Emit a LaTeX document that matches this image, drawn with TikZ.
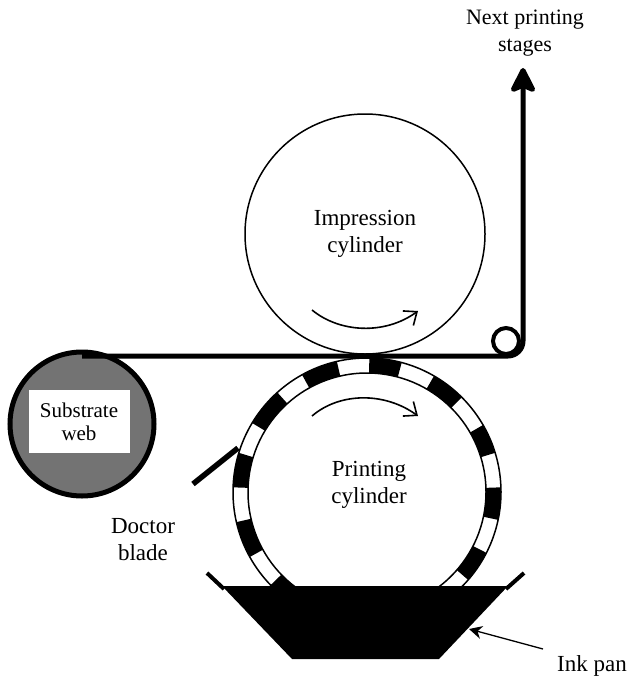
\documentclass[tikz,border=0pt]{standalone}
\usepackage{fontspec}
\setmainfont{Liberation Serif}
\usetikzlibrary{arrows.meta}

\begin{document}
\begin{tikzpicture}[x=1pt, y=-1pt,
		cyl/.style={draw, circle, line width=1.5pt, minimum size=#1, inner sep=0pt},
		lbl/.style={align=center, font=\fontsize{23}{27}\selectfont, inner sep=0pt},
		web/.style={line width=5pt},
		turn/.style={line width=1.6pt, -{Straight Barb[length=11pt, width=18pt, line width=1.6pt]}}]
	\useasboundingbox (0,0) rectangle (631,677);

	% printing cylinder with its plate segments
	\node (plate) [cyl=268pt, fill=white] at (367,492) {};
	\node (printing) [cyl=238pt] at (367,492) {};
	\begin{scope}[shift={(367,492)}]
		\foreach \a/\b in {271/285, 300/315, 330/343, 358/372, 387/401, 420/435, 450/465, 480/496, 511/527, 542/557, 571/588, 601/617} {
			\fill (\a:134) arc (\a:\b:134) -- (\b:119) arc (\b:\a:119) -- cycle;
		}
	\end{scope}

	% ink pan
	\fill (222,586) -- (508,586) -- (439,659) -- (292,659) -- cycle;
	\coordinate (panleft) at (207,573);
	\coordinate (panright) at (524,573);
	\draw [line width=4pt] (panleft) -- (224,589);
	\draw [line width=4pt] (panright) -- (506,589);

	% impression cylinder, roll and web path
	\node (impression) [cyl=240pt] at (365,234) {};
	\node (roll) [circle, draw, line width=5pt, fill=black!55, minimum size=144pt, inner sep=0pt] at (82,424) {};
	\node (guide) [circle, draw, line width=4pt, fill=white, minimum size=26pt, inner sep=0pt] at (506,341) {};
	\coordinate (webstart) at (82,356);
	\coordinate (webcorner) at (523,356);
	\coordinate (webend) at (523,68);
	\draw [web, rounded corners=15pt, -{Stealth[length=29pt, width=29pt, inset=6pt, round]}] (webstart) -- (webcorner) -- (webend);

	% doctor blade
	\coordinate (bladeend) at (193,484);
	\coordinate (bladetip) at (238,448);
	\draw [line width=5.5pt] (bladeend) -- (bladetip);

	% rotation arrows
	\draw [turn] (312,310) .. controls (340,333) and (385,335) .. (418,311);
	\draw [turn] (312,416) .. controls (340,392) and (385,392) .. (418,416);

	% labels
	\node (impressionlbl) [lbl] at (365,234) {Impression\\cylinder};
	\node (printinglbl) [lbl] at (369,485) {Printing\\cylinder};
	\node (rolllbl) [lbl, font=\fontsize{21}{23}\selectfont, fill=white, minimum width=101pt, minimum height=63pt] at (79,421.5) {Substrate\\web};
	\node (bladelbl) [lbl] at (143,540) {Doctor\\blade};
	\node (panlbl) [lbl, anchor=base] at (592,671) {Ink pan};
	\node (nextlbl) [lbl, font=\fontsize{22}{27}\selectfont] at (525,33.5) {Next printing\\stages};

	% ink pan pointer
	\coordinate (pointer) at (543,649);
	\coordinate (panedge) at (469,629);
	\draw [line width=1.3pt, -{Stealth[length=13pt, width=13pt]}] (pointer) -- (panedge);
\end{tikzpicture}
\end{document}
